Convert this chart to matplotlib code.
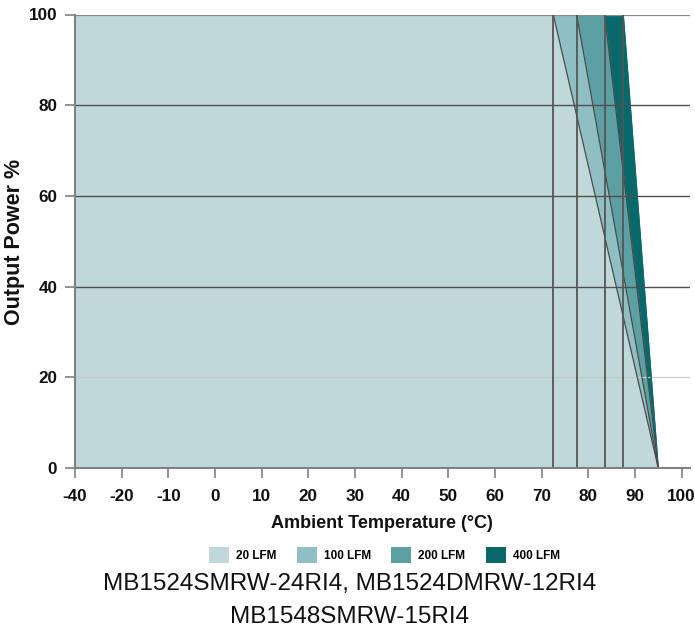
import matplotlib
matplotlib.use("Agg")
import matplotlib.pyplot as plt
from matplotlib.patches import Patch

# derating data (temperature in deg C, output power %)
airflow = ["20 LFM", "100 LFM", "200 LFM", "400 LFM"]
knee_temp = [72.5, 77.5, 83.5, 87.5]
end_temp = 95
start_temp = -40
colors = ["#c0d8da", "#8fbfc3", "#5da0a4", "#08696b"]

xtick_vals = [-40, -20, -10, 0, 10, 20, 30, 40, 50, 60, 70, 80, 90, 100]
ytick_vals = [0, 20, 40, 60, 80, 100]


def axpos(t):
    # the chart squeezes -40..-20 into one 10 degree step
    if t <= -20:
        return -20 + (t + 20) / 2.0
    return t


fig = plt.figure(figsize=(6.95, 6.31), dpi=100)
ax = fig.add_axes([75 / 695, 1 - 468 / 631, 615 / 695, (468 - 14.5) / 631])

# fills, widest airflow first so slower ones sit on top
for i in range(len(airflow) - 1, -1, -1):
    xs = [axpos(start_temp), axpos(knee_temp[i]), axpos(end_temp)]
    ax.fill_between(xs, [100, 100, 0], 0, color=colors[i], lw=0, zorder=1)
    if i < len(airflow) - 1:
        ax.plot([axpos(knee_temp[i]), axpos(end_temp)], [100, 0], color="#4a4a4a", lw=0.9, zorder=4)
    else:
        ax.plot([axpos(knee_temp[i]), axpos(end_temp)], [100, 0], color=colors[i], lw=0.9, zorder=4)

ax.vlines([axpos(k) for k in knee_temp], 0, 100, color="#555555", lw=1.3, zorder=4)

# grid
for y in ytick_vals[1:]:
    if y == 20:
        ax.axhline(y, color="#c9c9c9", lw=0.9, zorder=3)
    elif y == 100:
        ax.axhline(y, color="#8a8a8a", lw=1.6, zorder=3)
    else:
        ax.axhline(y, color="#505050", lw=1.0, zorder=3)

ax.set_xlim(axpos(start_temp), 101.8)
ax.set_ylim(0, 100)
ax.set_xticks([axpos(t) for t in xtick_vals])
ax.set_xticklabels([str(t) for t in xtick_vals])
ax.set_yticks(ytick_vals)

for s in ["top", "right"]:
    ax.spines[s].set_visible(False)
for s in ["left", "bottom"]:
    ax.spines[s].set_color("#808080")
    ax.spines[s].set_linewidth(1.5)
    ax.spines[s].set_zorder(5)

ax.tick_params(axis="both", direction="out", length=7.2, width=1.2, color="#808080")
ax.tick_params(axis="x", pad=8)
ax.tick_params(axis="y", pad=5.5)
for lab in ax.get_xticklabels() + ax.get_yticklabels():
    lab.set_fontfamily("Liberation Sans")
    lab.set_fontweight("bold")
    lab.set_fontsize(12.3)
    lab.set_color("#111111")

fig.text(15 / 695, 1 - 241.5 / 631, "Output Power %", rotation=90, ha="center", va="center",
         fontsize=15.5, fontweight="bold", family="Liberation Sans", color="#111111")
fig.text(382 / 695, 1 - 523 / 631, "Ambient Temperature (°C)", ha="center", va="center",
         fontsize=13, fontweight="bold", family="Liberation Sans", color="#111111")

handles = [Patch(facecolor=c, edgecolor="none") for c in colors]
fig.legend(handles, airflow, loc="center", bbox_to_anchor=(384.5 / 695, 1 - 555 / 631), ncol=4,
           frameon=False, handlelength=1.7, handleheight=1.7, handletextpad=0.6, columnspacing=1.7,
           prop={"family": "Liberation Sans", "weight": "bold", "size": 8.5})

fig.text(350 / 695, 1 - 584 / 631, "MB1524SMRW-24RI4, MB1524DMRW-12RI4", ha="center", va="center",
         fontsize=17.5, family="Liberation Sans", color="#111111")
fig.text(350 / 695, 1 - 617 / 631, "MB1548SMRW-15RI4", ha="center", va="center",
         fontsize=17.5, family="Liberation Sans", color="#111111")

fig.savefig("out.png", dpi=100)
